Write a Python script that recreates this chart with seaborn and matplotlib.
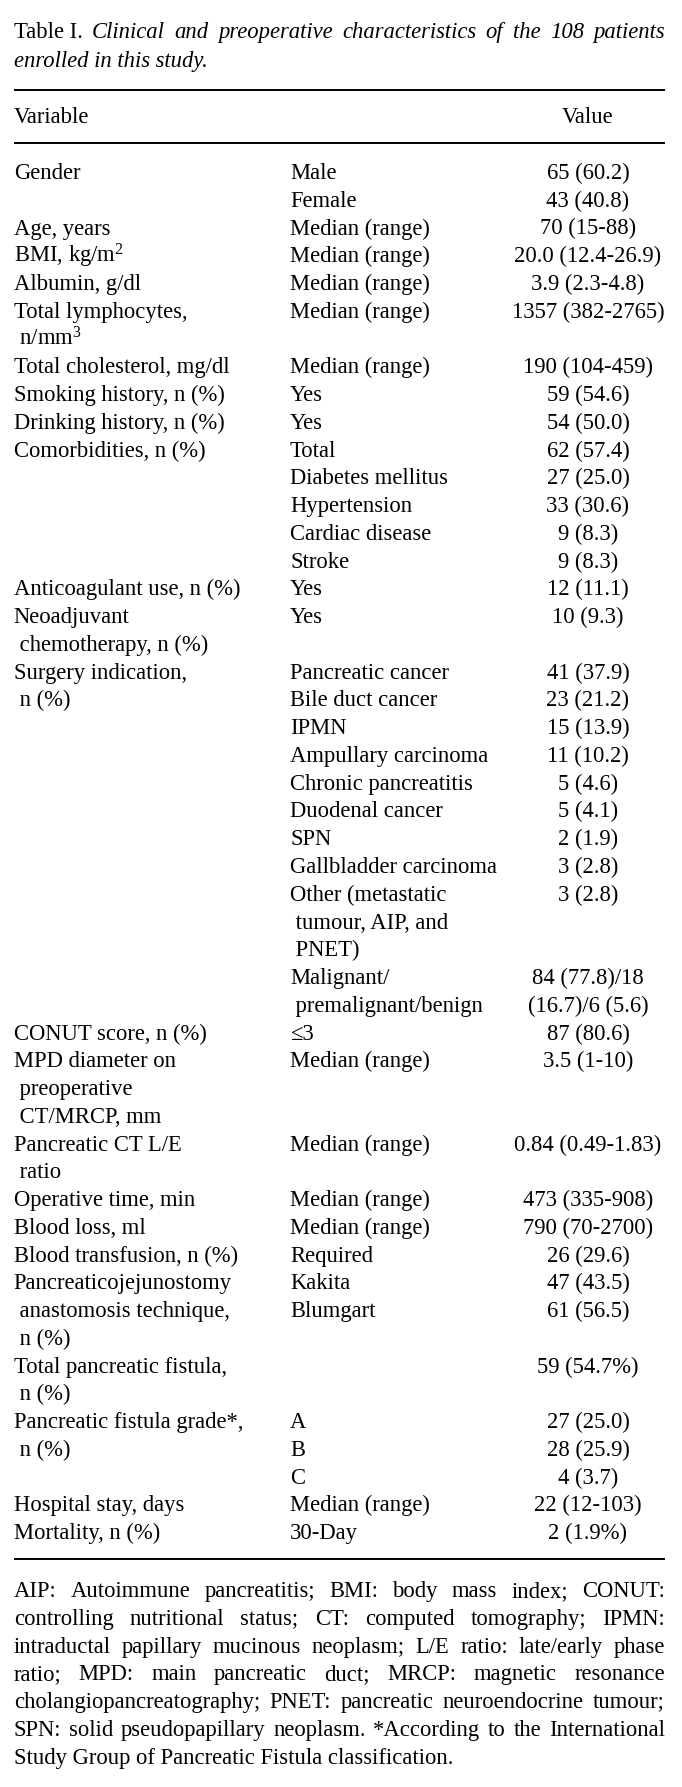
import matplotlib
matplotlib.use("Agg")
import matplotlib.pyplot as plt
import seaborn as sns

# table content
title_lead = "Table I."
title_words = "Clinical and preoperative characteristics of the 108 patients".split()
title_line2 = "enrolled in this study."
header_variable = "Variable"
header_value = "Value"

variables = [
    "Gender", "", "Age, years", "BMI, kg/m$^2$", "Albumin, g/dl",
    "Total lymphocytes,", " n/mm$^3$", "Total cholesterol, mg/dl",
    "Smoking history, n (%)", "Drinking history, n (%)",
    "Comorbidities, n (%)", "", "", "", "",
    "Anticoagulant use, n (%)", "Neoadjuvant", " chemotherapy, n (%)",
    "Surgery indication,", " n (%)", "", "", "", "", "", "", "", "", "", "", "",
    "CONUT score, n (%)", "MPD diameter on", " preoperative", " CT/MRCP, mm",
    "Pancreatic CT L/E", " ratio", "Operative time, min", "Blood loss, ml",
    "Blood transfusion, n (%)", "Pancreaticojejunostomy",
    " anastomosis technique,", " n (%)", "Total pancreatic fistula,", " n (%)",
    "Pancreatic fistula grade*,", " n (%)", "", "Hospital stay, days",
    "Mortality, n (%)",
]
subgroups = [
    "Male", "Female", "Median (range)", "Median (range)", "Median (range)",
    "Median (range)", "", "Median (range)", "Yes", "Yes",
    "Total", "Diabetes mellitus", "Hypertension", "Cardiac disease", "Stroke",
    "Yes", "Yes", "",
    "Pancreatic cancer", "Bile duct cancer", "IPMN", "Ampullary carcinoma",
    "Chronic pancreatitis", "Duodenal cancer", "SPN", "Gallbladder carcinoma",
    "Other (metastatic", " tumour, AIP, and", " PNET)", "Malignant/",
    " premalignant/benign",
    "≤3", "Median (range)", "", "", "Median (range)", "", "Median (range)",
    "Median (range)", "Required", "Kakita", "Blumgart", "", "", "",
    "A", "B", "C", "Median (range)", "30-Day",
]
values = [
    "65 (60.2)", "43 (40.8)", "70 (15-88)", "20.0 (12.4-26.9)", "3.9 (2.3-4.8)",
    "1357 (382-2765)", "", "190 (104-459)", "59 (54.6)", "54 (50.0)",
    "62 (57.4)", "27 (25.0)", "33 (30.6)", "9 (8.3)", "9 (8.3)",
    "12 (11.1)", "10 (9.3)", "",
    "41 (37.9)", "23 (21.2)", "15 (13.9)", "11 (10.2)", "5 (4.6)", "5 (4.1)",
    "2 (1.9)", "3 (2.8)", "3 (2.8)", "", "", "84 (77.8)/18", "(16.7)/6 (5.6)",
    "87 (80.6)", "3.5 (1-10)", "", "", "0.84 (0.49-1.83)", "", "473 (335-908)",
    "790 (70-2700)", "26 (29.6)", "47 (43.5)", "61 (56.5)", "", "59 (54.7%)", "",
    "27 (25.0)", "28 (25.9)", "4 (3.7)", "22 (12-103)", "2 (1.9%)",
]

footnote_lines = [
    "AIP: Autoimmune pancreatitis; BMI: body mass index; CONUT:",
    "controlling nutritional status; CT: computed tomography; IPMN:",
    "intraductal papillary mucinous neoplasm; L/E ratio: late/early phase",
    "ratio; MPD: main pancreatic duct; MRCP: magnetic resonance",
    "cholangiopancreatography; PNET: pancreatic neuroendocrine tumour;",
    "SPN: solid pseudopapillary neoplasm. *According to the International",
    "Study Group of Pancreatic Fistula classification.",
]

sns.set_theme(style="white")
plt.rcParams["font.family"] = ["Liberation Serif", "DejaVu Serif"]
plt.rcParams["mathtext.fontset"] = "custom"
plt.rcParams["mathtext.rm"] = "Liberation Serif"
plt.rcParams["mathtext.it"] = "Liberation Serif:italic"
plt.rcParams["mathtext.default"] = "regular"
FS = 16.3
LEFT, RIGHT = 13.7, 665
COL2 = 290
COL3 = 588
ROW0, ROWH = 172, 27.76
BASE = 7  # centre -> baseline

fig = plt.figure(figsize=(6.82, 17.87), dpi=100)
ax = fig.add_axes([0, 0, 1, 1])
ax.set_xlim(0, 682)
ax.set_ylim(1787, 0)
ax.axis("off")
renderer = fig.canvas.get_renderer()


def width_of(s, style="normal"):
    t = ax.text(0, 0, s, fontsize=FS, style=style)
    w = t.get_window_extent(renderer).width
    t.remove()
    return w


def justify(words, styles, y):
    widths = [width_of(w, s) for w, s in zip(words, styles)]
    gap = (RIGHT - LEFT - sum(widths)) / (len(words) - 1)
    x = LEFT
    for w, s, wd in zip(words, styles, widths):
        ax.text(x, y + BASE, w, fontsize=FS, style=s, va="baseline", ha="left",
                color="black")
        x += wd + gap


# title
justify([title_lead] + title_words, ["normal"] + ["italic"] * len(title_words), 31)
ax.text(LEFT, 59.5 + BASE, title_line2, fontsize=FS, style="italic",
        va="baseline", color="black")

# header and rules
ax.hlines([90, 143, 1559], LEFT, RIGHT, color="black", lw=1.4)
ax.text(LEFT, 116 + BASE, header_variable, fontsize=FS, va="baseline", color="black")
ax.text(COL3, 116 + BASE, header_value, fontsize=FS, va="baseline", ha="center",
        color="black")

# body rows
for i, (v, s, val) in enumerate(zip(variables, subgroups, values)):
    y = ROW0 + i * ROWH + BASE
    ax.text(LEFT, y, v, fontsize=FS, va="baseline", ha="left", color="black")
    ax.text(COL2, y, s, fontsize=FS, va="baseline", ha="left", color="black")
    ax.text(COL3, y, val, fontsize=FS, va="baseline", ha="center", color="black")

# footnote, justified except the last line
for i, line in enumerate(footnote_lines):
    y = 1590 + i * ROWH
    if i < len(footnote_lines) - 1:
        words = line.split()
        justify(words, ["normal"] * len(words), y)
    else:
        ax.text(LEFT, y + BASE, line, fontsize=FS, va="baseline", color="black")

fig.savefig("out.png", dpi=100, facecolor="white")
plt.close(fig)
